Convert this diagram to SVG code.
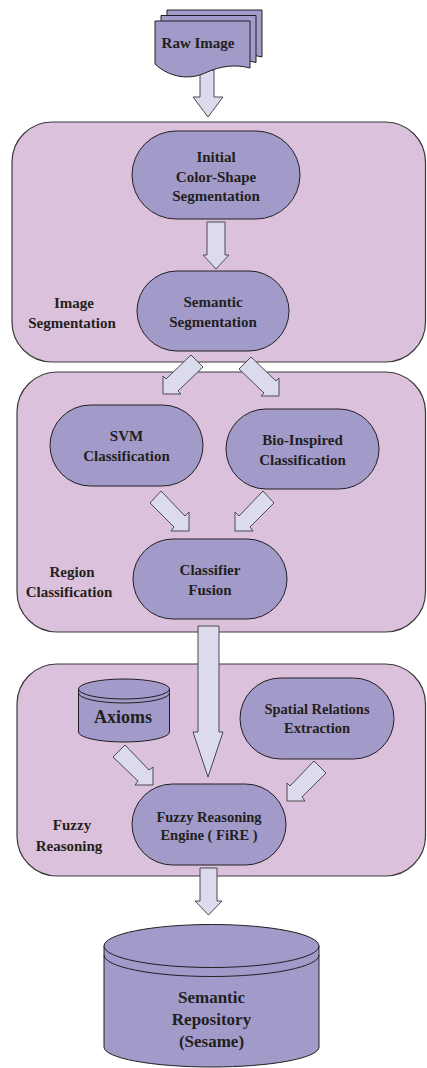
<svg xmlns="http://www.w3.org/2000/svg" width="427" height="1068" viewBox="0 0 427 1068">
<style>
.box{fill:#dbc1dc;stroke:#3a3a3a;stroke-width:1.2}
.node{fill:#a29ac9;stroke:#231f20;stroke-width:1}
.arr{fill:#dcdaed;stroke:#4a4a4a;stroke-width:1;stroke-linejoin:miter}
text{font-family:"Liberation Serif","Times New Roman",serif;font-weight:bold;fill:#231f20;text-anchor:middle;font-size:15px}
.lab{font-size:15px}
.sm{font-size:14.5px}
.big{font-size:18px}
.rep{font-size:17px}
</style>
<rect width="427" height="1068" fill="#ffffff"/>
<g id="containers">
<g id="image-segmentation">
<rect class="box" x="12" y="122" width="413.5" height="240" rx="40"/>
<text class="lab" x="74" y="308">Image</text>
<text class="lab" x="72" y="328">Segmentation</text>
</g>
<g id="region-classification">
<rect class="box" x="17" y="372" width="408.5" height="260" rx="40"/>
<text class="lab" x="72" y="577">Region</text>
<text class="lab" x="69" y="597">Classification</text>
</g>
<g id="fuzzy-reasoning">
<rect class="box" x="17" y="664" width="408.5" height="212" rx="40"/>
<text class="lab" x="72" y="830">Fuzzy</text>
<text class="lab" x="69" y="851">Reasoning</text>
</g>
</g>
<g id="connectors">
<polygon class="arr" points="200,70 214,70 214,97 223,97 208,117 193,97 200,97"/>
<polygon class="arr" points="207,222 225,222 225,255 229,255 216,269 203,255 207,255"/>
<polygon class="arr" points="191,355 166,379 163,376 163,394 181,394 178,391 203,367"/>
<polygon class="arr" points="251,357 276,381 279,378 279,396 261,396 264,393 239,369"/>
<polygon class="arr" points="161,491 185,516 189,512 189,531 171,531 174,527 150,503"/>
<polygon class="arr" points="263,491 239,516 235,512 235,531 253,531 250,527 274,503"/>
<polygon class="arr" points="198,626 219,626 219,732 223,732 208,777 193,732 198,732"/>
<polygon class="arr" points="125,745 149,770 153,767 153,785 135,785 138,781 113,757"/>
<polygon class="arr" points="314,761 290,786 287,783 287,801 305,801 302,797 326,773"/>
<polygon class="arr" points="200,868 217,868 217,901 222,901 208.5,915 195,901 200,901"/>
</g>
<g id="raw-image">
<path class="node" transform="translate(12,-11)" d="M155,21 H250 V68 C235,64 220,66 205,73 C190,80 170,78 155,64 Z"/>
<path class="node" transform="translate(6,-5.5)" d="M155,21 H250 V68 C235,64 220,66 205,73 C190,80 170,78 155,64 Z"/>
<path class="node" d="M155,21 H250 V68 C235,64 220,66 205,73 C190,80 170,78 155,64 Z"/>
<text x="198" y="48">Raw Image</text>
</g>
<g id="initial-segmentation">
<rect class="node" x="132" y="131" width="168" height="88" rx="44"/>
<text x="216" y="162">Initial</text>
<text x="216" y="182">Color-Shape</text>
<text x="216" y="201">Segmentation</text>
</g>
<g id="semantic-segmentation">
<rect class="node" x="137" y="271" width="152" height="80" rx="40"/>
<text x="213" y="307">Semantic</text>
<text x="213" y="327">Segmentation</text>
</g>
<g id="svm-classification">
<rect class="node" x="50" y="405" width="153" height="81" rx="40.5"/>
<text x="126.5" y="441">SVM</text>
<text x="126.5" y="461">Classification</text>
</g>
<g id="bio-classification">
<rect class="node" x="226" y="409" width="153" height="80" rx="40"/>
<text x="302.5" y="445">Bio-Inspired</text>
<text x="302.5" y="465">Classification</text>
</g>
<g id="classifier-fusion">
<rect class="node" x="133" y="539" width="154" height="80" rx="40"/>
<text x="210" y="575">Classifier</text>
<text x="210" y="595">Fusion</text>
</g>
<g id="axioms">
<path class="node" d="M78.5,689 V732 A45.5,10 0 0 0 169.5,732 V689"/>
<ellipse class="node" cx="124" cy="689" rx="45.5" ry="10"/>
<path fill="none" stroke="#231f20" stroke-width="1" d="M78.5,693 A45.5,10 0 0 0 169.5,693"/>
<text class="big" x="123" y="723">Axioms</text>
</g>
<g id="spatial-relations">
<rect class="node" x="240" y="678" width="154" height="81" rx="40.5"/>
<text class="sm" x="317" y="714">Spatial Relations</text>
<text class="sm" x="317" y="733">Extraction</text>
</g>
<g id="fire">
<rect class="node" x="132" y="784" width="154" height="81" rx="40.5"/>
<text class="sm" x="209" y="822">Fuzzy Reasoning</text>
<text class="sm" x="209" y="840">Engine (  FiRE )</text>
</g>
<g id="semantic-repository">
<path class="node" d="M104,946 V1047 A107.5,20 0 0 0 319,1047 V946"/>
<ellipse class="node" cx="211.5" cy="946" rx="107.5" ry="21.5"/>
<path fill="none" stroke="#231f20" stroke-width="1" d="M104,955 A107.5,21.5 0 0 0 319,955"/>
<text class="rep" x="211.5" y="1003">Semantic</text>
<text class="rep" x="211.5" y="1025">Repository</text>
<text class="rep" x="211.5" y="1047">(Sesame)</text>
</g>
</svg>
